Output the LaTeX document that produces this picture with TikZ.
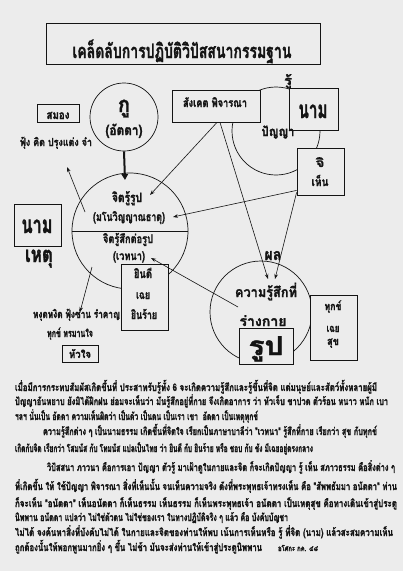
\documentclass[tikz,border=0pt]{standalone}
\usepackage{fontspec}
\usepackage{graphicx}
\usetikzlibrary{arrows.meta,calc}
\newfontfamily\thai[Script=Thai,BoldFeatures={FakeBold=1.5}]{Loma}
\definecolor{bgc}{RGB}{236,236,236}
\definecolor{ink}{RGB}{20,20,20}
\newcommand\fw[2]{\resizebox{#1pt}{\height}{#2}}
\newcommand\fs[1]{\fontsize{#1}{#1}\selectfont}
\begin{document}
\begin{tikzpicture}[x=1pt,y=-1pt,
  lbl/.style={inner sep=0pt, outer sep=0pt, text=ink, font=\thai\bfseries, anchor=base},
  para/.style={inner sep=0pt, outer sep=0pt, text=ink, font=\thai\bfseries\fs{10.5}, anchor=base west},
  tbox/.style={draw=ink, line width=0.8pt, fill=bgc, inner sep=0pt},
  circ/.style={draw=ink, circle, line width=0.7pt, inner sep=0pt},
  arr/.style={draw=ink, line width=0.6pt, -{Stealth[length=5pt,width=3.6pt]}},
  thickarr/.style={draw=ink, line width=2pt, -{Triangle[length=6pt,width=6.5pt]}}
]
\fill[bgc] (0,0) rectangle (403,571);
\useasboundingbox (0,0) rectangle (403,571);

% circles
\node[circ, minimum size=68pt] (guu) at (124,117) {};
\node[circ, minimum size=116pt] (big) at (130,231) {};
\node[circ, minimum size=88pt] (panya) at (276,131) {};
\node[circ, minimum size=102pt] (small) at (261,312) {};
\draw[ink, line width=0.7pt] (big.west) -- (big.east);

% free ends of connectors
\coordinate (thtip) at (125,180);
\coordinate (c1s) at (85,212);
\coordinate (c1e) at (67,167);
\coordinate (c2s) at (92,267);
\coordinate (c2e) at (80,312);
\coordinate (c3e) at (150,195);
\coordinate (c4e) at (268,279);
\coordinate (c5e) at (173,217);
\coordinate (c6e) at (275,279);
\coordinate (c7s) at (238,307);
\coordinate (c7e) at (151,258);

% boxes
\node[tbox, line width=1pt, minimum width=274pt, minimum height=41pt] (title) at (183,43.5) {};
\node[tbox, minimum width=42pt, minimum height=18pt] (smong) at (58,113) {};
\node[tbox, minimum width=88pt, minimum height=32pt] (sk) at (216,106) {};
\node[tbox, minimum width=49pt, minimum height=42pt] (namr) at (313.5,109) {};
\node[tbox, minimum width=47pt, minimum height=47pt] (ji) at (320.5,171.5) {};
\node[tbox, minimum width=47pt, minimum height=42pt] (naml) at (37.5,225) {};
\node[tbox, minimum width=47pt, minimum height=66pt] (yin) at (144.5,297) {};
\node[tbox, minimum width=36pt, minimum height=17pt] (hua) at (80,353.5) {};
\node[tbox, minimum width=54pt, minimum height=36pt] (rup) at (266,346) {};
\node[tbox, minimum width=47pt, minimum height=65pt] (suk) at (333.5,327.5) {};

% connectors
\draw[thickarr] (guu.south) -- (thtip);
\draw[arr] (c1s) -- (c1e);
\draw[arr] (c2s) -- (c2e);
\draw[arr] ([xshift=1pt]sk.south) -- (c3e);
\draw[arr] ([xshift=4pt]sk.south) -- (c4e);
\draw[arr] ([yshift=5pt]ji.south west) -- (c5e);
\draw[arr] ([yshift=3pt]ji.south west) -- (c6e);
\draw[arr] (c7s) -- (c7e);

% labels
\node[lbl] (tt) at (182,58) {\fs{20}\fw{219}{เคล็ดลับการปฏิบัติวิปัสสนากรรมฐาน}};
\node[lbl] (ru) at (288,85) {\fs{13}\fw{8}{รู้}};
\node[lbl] (kuu) at (124,112) {\fs{22}\fw{12}{กู}};
\node[lbl] (atta) at (124,135) {\fs{14}\fw{37}{(อัตตา)}};
\node[lbl] (smongt) at (58,119) {\fs{12}\fw{23}{สมอง}};
\node[lbl] (fung) at (56,146) {\fs{11}\fw{72}{ฟุ้ง คิด ปรุงแต่ง จำ}};
\node[lbl] (jr1) at (127,202) {\fs{13}\fw{30}{จิตรู้รูป}};
\node[lbl] (jr2) at (129,221) {\fs{12}\fw{72}{(มโนวิญญาณธาตุ)}};
\node[lbl] (jr3) at (128,243) {\fs{12}\fw{50}{จิตรู้สึกต่อรูป}};
\node[lbl] (jr4) at (129,260) {\fs{12}\fw{32}{(เวทนา)}};
\node[lbl] (skt) at (215,107) {\fs{12}\fw{64}{สังเคต พิจารณา}};
\node[lbl] (panyat) at (278,136) {\fs{13}\fw{33}{ปัญญา}};
\node[lbl] (namrt) at (313,118) {\fs{24}\fw{29}{นาม}};
\node[lbl] (jit) at (320,167) {\fs{12}\fw{9}{จิ}};
\node[lbl] (hen) at (320,186) {\fs{12}\fw{17}{เห็น}};
\node[lbl] (namlt) at (37,233) {\fs{24}\fw{31}{นาม}};
\node[lbl] (het) at (39,262) {\fs{22}\fw{28}{เหตุ}};
\node[lbl] (y1) at (143,278) {\fs{12}\fw{18}{ยินดี}};
\node[lbl] (y2) at (143,299) {\fs{12}\fw{14}{เฉย}};
\node[lbl] (y3) at (144,319) {\fs{12}\fw{26}{ยินร้าย}};
\node[lbl] (ngud) at (76.5,318) {\fs{11}\fw{87}{หงุดหงิด ฟุ้งซ่าน รำคาญ}};
\node[lbl] (tuk) at (70,337) {\fs{11}\fw{46}{ทุกข์ ทรมานใจ}};
\node[lbl] (huat) at (80,358) {\fs{11}\fw{22}{หัวใจ}};
\node[lbl] (phon) at (273,260) {\fs{16}\fw{17}{ผล}};
\node[lbl] (kw1) at (266,297) {\fs{14}\fw{62}{ความรู้สึกที่}};
\node[lbl] (kw2) at (263,326) {\fs{14}\fw{47}{ร่างกาย}};
\node[lbl] (rupt) at (266,355) {\fs{26}\fw{35}{รูป}};
\node[lbl] (s1) at (333,310) {\fs{11}\fw{17}{ทุกข์}};
\node[lbl] (s2) at (333,332) {\fs{11}\fw{13}{เฉย}};
\node[lbl] (s3) at (333,345) {\fs{11}\fw{12}{สุข}};

% paragraph
\node[para] (p1) at (15,391) {\fw{362}{เมื่อมีการกระทบสัมผัสเกิดขึ้นที่ ประสาทรับรู้ทั้ง 6 จะเกิดความรู้สึกและรู้ขึ้นที่จิต แต่มนุษย์และสัตว์ทั้งหลายผู้มี}};
\node[para] (p2) at (15,405) {\fw{373}{ปัญญาอันหยาบ ยังมิได้ฝึกฝน ย่อมจะเห็นว่า มันรู้สึกอยู่ที่กาย จึงเกิดอาการ ว่า หัวเจ็บ ขาปวด ตัวร้อน หนาว หนัก เบา}};
\node[para] (p3) at (15,420) {\fw{243}{ฯลฯ นั่นเป็น อัตตา ความเห็นผิดว่า เป็นตัว เป็นตน เป็นเรา เขา \ อัตตา เป็นเหตุทุกข์}};
\node[para] (p4) at (43,435) {\fw{334}{ความรู้สึกต่าง ๆ เป็นนามธรรม เกิดขึ้นที่จิตใจ เรียกเป็นภาษาบาลีว่า "เวทนา" รู้สึกที่กาย เรียกว่า สุข กับทุกข์}};
\node[para] (p5) at (15,452) {\fw{298}{เกิดกับจิต เรียกว่า โสมนัส กับ โทมนัส แปลเป็นไทย ว่า ยินดี กับ ยินร้าย หรือ ชอบ กับ ชัง มีเฉยอยู่ตรงกลาง}};
\node[para] (p6) at (47,471) {\fw{348}{วิปัสสนา ภาวนา คือการเอา ปัญญา ตัวรู้ มาเฝ้าดูในกายและจิต ก็จะเกิดปัญญา รู้ เห็น สภาวธรรม คือสิ่งต่าง ๆ}};
\node[para] (p7) at (15,490) {\fw{382}{ที่เกิดขึ้น ให้ ใช้ปัญญา พิจารณา สิ่งที่เห็นนั้น จนเห็นความจริง ดังที่พระพุทธเจ้าทรงเห็น คือ "สัพพธัมมา อนัตตา" ท่าน}};
\node[para] (p8) at (15,507) {\fw{382}{ก็จะเห็น "อนัตตา" เห็นอนัตตา ก็เห็นธรรม เห็นธรรม ก็เห็นพระพุทธเจ้า อนัตตา เป็นเหตุสุข คือทางเดินเข้าสู่ประตู}};
\node[para] (p9) at (15,521) {\fw{273}{นิพพาน อนัตตา แปลว่า ไม่ใช่ตัวตน ไม่ใช่ของเรา ในทางปฏิบัติจริง ๆ แล้ว คือ บังคับบัญชา}};
\node[para] (p10) at (15,536) {\fw{378}{ไม่ได้ จงค้นหาสิ่งที่บังคับไม่ได้ ในกายและจิตของท่านให้พบ เน้นการเห็นหรือ รู้ ที่จิต (นาม) แล้วสะสมความเห็น}};
\node[para] (p11) at (15,551) {\fw{247}{ถูกต้องนั้นให้พอกพูนมากยิ่ง ๆ ขึ้น ไม่ช้า มันจะส่งท่านให้เข้าสู่ประตูนิพพาน}};
\node[para] (sig) at (278,551) {\fs{8}\fw{40}{อโศกะ กค. ๔๘}};
\end{tikzpicture}
\end{document}
